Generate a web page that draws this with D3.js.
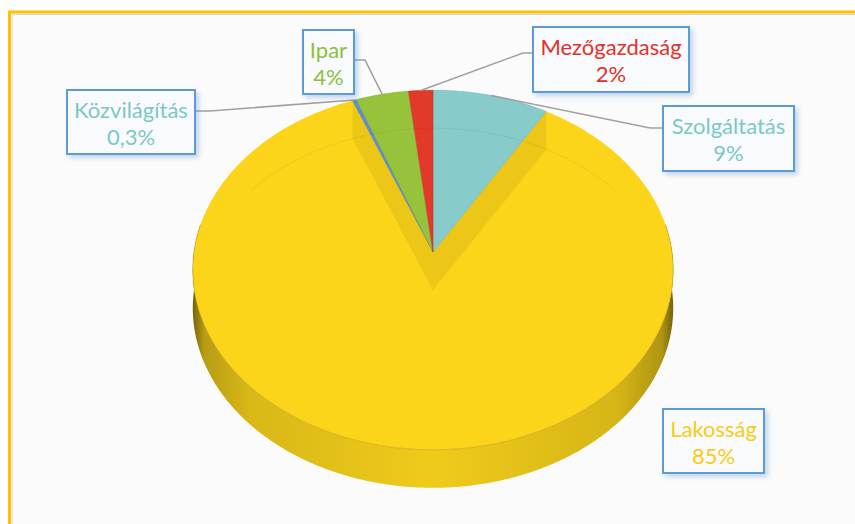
<!DOCTYPE html>
<html>
<head>
<meta charset="utf-8">
<script src="https://cdn.jsdelivr.net/npm/d3@7"></script>
<style>
  body { margin: 0; background: #ffffff; }
  svg { display: block; }
  .lbl { font-family: "Lato", "Noto Sans", sans-serif; font-size: 22px; }
</style>
</head>
<body>
<div id="chart"></div>
<script>
var svgWidth = 855;
var svgHeight = 524;

// data, clockwise from 12 o'clock
var categories = ["Szolgáltatás", "Lakosság", "Közvilágítás", "Ipar", "Mezőgazdaság"];
var values = [8.6, 85.4, 0.3, 3.9, 1.8];
var pctLabels = ["9%", "85%", "0,3%", "4%", "2%"];

var sliceColors = ["#87cbca", "#fcd419", "#5e8fcb", "#97c23b", "#e3392a"];
var labelColors = ["#7cc8c6", "#f9cc14", "#7cc8c6", "#8cc13b", "#e5302a"];

// label boxes (layout only)
var boxes = [
  {x: 663, y: 106, w: 131, h: 65, elbow: [650, 128], side: "left"},
  {x: 663, y: 409, w: 101, h: 64, elbow: null},
  {x: 67, y: 90, w: 128, h: 64, elbow: [210, 111], side: "right"},
  {x: 303, y: 30, w: 51, h: 64, elbow: [365, 60], side: "right"},
  {x: 533, y: 27, w: 156, h: 65, elbow: [523, 53], side: "left"}
];

// pie geometry (tilted ellipse with a little perspective)
var cx = 433, cy = 252, rx = 239, ry = 178, persp = 0.1, depth = 38;

function proj(theta, r, dz) {
  var u = Math.sin(theta) * r, v = -Math.cos(theta) * r;
  var g = 1 / (1 - persp * v);
  return [cx + rx * u * g, cy + ry * v * g + dz];
}
function rim(a0, a1, dz) {
  var n = Math.max(2, Math.ceil(Math.abs(a1 - a0) / 0.01));
  return d3.range(n + 1).map(function(i) { return proj(a0 + (a1 - a0) * i / n, 1, dz); });
}

var line = d3.line();

var svg = d3.select("#chart")
  .append("svg")
  .attr("width", svgWidth)
  .attr("height", svgHeight);

var defs = svg.append("defs");

var wallGrad = defs.append("linearGradient")
  .attr("id", "wallGrad")
  .attr("gradientUnits", "userSpaceOnUse")
  .attr("x1", cx - rx - 2).attr("x2", cx + rx + 2)
  .attr("y1", 0).attr("y2", 0);
[[0, "#6e600a"], [0.025, "#b89c12"], [0.12, "#d8b817"], [0.5, "#efcb1b"],
 [0.88, "#d6b617"], [0.975, "#b09512"], [1, "#6e600a"]].forEach(function(s) {
  wallGrad.append("stop").attr("offset", s[0]).attr("stop-color", s[1]);
});

var shadow = defs.append("filter")
  .attr("id", "boxShadow")
  .attr("x", "-20%").attr("y", "-20%")
  .attr("width", "150%").attr("height", "150%");
shadow.append("feDropShadow")
  .attr("dx", 3).attr("dy", 3)
  .attr("stdDeviation", 2.5)
  .attr("flood-color", "#5b8fc8")
  .attr("flood-opacity", 0.35);

// chart area frame
svg.append("rect")
  .attr("x", 9.5).attr("y", 12)
  .attr("width", 900).attr("height", 600)
  .attr("fill", "#fbfbfb")
  .attr("stroke", "#ffc000")
  .attr("stroke-width", 3);
svg.append("path")
  .attr("d", "M12,600 V14.5 H900")
  .attr("fill", "none")
  .attr("stroke", "#d6d6d6")
  .attr("stroke-width", 1);

var arcs = d3.pie().sort(null).value(function(d) { return d; })(values);
var big = arcs[1];

var pieGroup = svg.append("g");

// outer side wall of the big slice (front half)
var wa0 = Math.max(big.startAngle, Math.PI * 0.45);
var wa1 = Math.min(big.endAngle, Math.PI * 1.55);
var wallPts = rim(wa0, wa1, 0).concat(rim(wa1, wa0, depth));
pieGroup.append("path")
  .attr("d", line(wallPts) + "Z")
  .attr("fill", "url(#wallGrad)");

// top face of the big slice
pieGroup.append("path")
  .attr("d", line([proj(0, 0, 0)].concat(rim(big.startAngle, big.endAngle, 0))) + "Z")
  .attr("fill", sliceColors[1]);

// radial walls of the big slice, seen through the top
[big.startAngle, big.endAngle].forEach(function(a) {
  var q = [proj(a, 0, 0), proj(a, 1, 0), proj(a, 1, depth), proj(a, 0, depth)];
  pieGroup.append("path")
    .attr("d", line(q) + "Z")
    .attr("fill", "#ecc718");
});

// front top edge
pieGroup.append("path")
  .attr("d", line(rim(wa0, wa1, 0)))
  .attr("fill", "none")
  .attr("stroke", "#a88d0c")
  .attr("stroke-opacity", 0.45)
  .attr("stroke-width", 1);

// small slices
arcs.forEach(function(d, i) {
  if (i === 1) return;
  pieGroup.append("path")
    .attr("d", line([proj(0, 0, 0)].concat(rim(d.startAngle, d.endAngle, 0))) + "Z")
    .attr("fill", sliceColors[i])
    .attr("stroke", d3.color(sliceColors[i]).darker(0.4))
    .attr("stroke-width", 0.5);
});

// faint back rim of the bottom face, visible through the top
pieGroup.append("path")
  .attr("d", line(rim(-Math.PI * 0.3, Math.PI * 0.3, depth)))
  .attr("fill", "none")
  .attr("stroke", "#000")
  .attr("stroke-opacity", 0.04)
  .attr("stroke-width", 1.2);

// leader lines
arcs.forEach(function(d, i) {
  var b = boxes[i];
  if (!b.elbow) return;
  var mid = (d.startAngle + d.endAngle) / 2;
  var p0 = proj(mid, 1, 0);
  var ex = b.side === "left" ? b.x : b.x + b.w;
  svg.append("path")
    .attr("d", line([p0, b.elbow, [ex, b.elbow[1]]]))
    .attr("fill", "none")
    .attr("stroke", "#a0a0a0")
    .attr("stroke-width", 1.6);
});

// label boxes
var labels = svg.selectAll(".label")
  .data(arcs)
  .enter()
  .append("g")
  .attr("class", "label");

labels.append("rect")
  .attr("x", function(d, i) { return boxes[i].x; })
  .attr("y", function(d, i) { return boxes[i].y; })
  .attr("width", function(d, i) { return boxes[i].w; })
  .attr("height", function(d, i) { return boxes[i].h; })
  .attr("fill", "#f8fafd")
  .attr("stroke", "#5b9bd5")
  .attr("stroke-width", 2)
  .attr("filter", "url(#boxShadow)");

labels.append("text")
  .attr("class", "lbl")
  .attr("text-anchor", "middle")
  .attr("x", function(d, i) { return boxes[i].x + boxes[i].w / 2; })
  .attr("y", function(d, i) { return boxes[i].y + 28; })
  .attr("fill", function(d, i) { return labelColors[i]; })
  .text(function(d, i) { return categories[i]; });

labels.append("text")
  .attr("class", "lbl")
  .attr("text-anchor", "middle")
  .attr("x", function(d, i) { return boxes[i].x + boxes[i].w / 2; })
  .attr("y", function(d, i) { return boxes[i].y + 55; })
  .attr("fill", function(d, i) { return labelColors[i]; })
  .text(function(d, i) { return pctLabels[i]; });
</script>
</body>
</html>
